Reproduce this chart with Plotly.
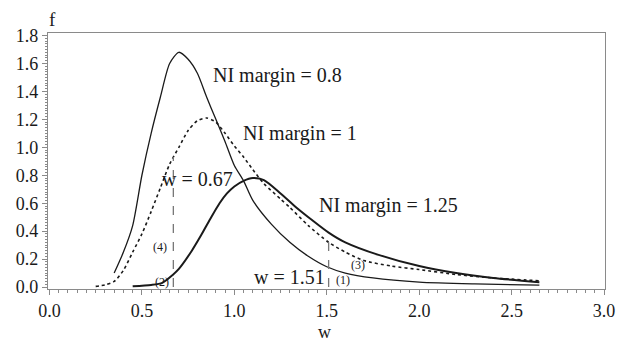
import plotly.graph_objects as go

# NI margin = 0.8 (thin solid)
w_08 = [0.35, 0.40, 0.45, 0.50, 0.55, 0.60, 0.65, 0.70, 0.75, 0.80, 0.85, 0.90, 0.95,
        1.00, 1.05, 1.10, 1.20, 1.30, 1.40, 1.50, 1.60, 1.75, 2.00, 2.30, 2.65]
f_08 = [0.10, 0.25, 0.44, 0.80, 1.10, 1.36, 1.60, 1.68, 1.63, 1.53, 1.36, 1.20, 1.04,
        0.87, 0.76, 0.62, 0.45, 0.32, 0.22, 0.145, 0.10, 0.065, 0.035, 0.022, 0.014]

# NI margin = 1 (dotted)
w_10 = [0.25, 0.30, 0.35, 0.40, 0.45, 0.50, 0.55, 0.60, 0.65, 0.70, 0.75, 0.80, 0.85,
        0.90, 0.95, 1.00, 1.05, 1.10, 1.16, 1.25, 1.30, 1.40, 1.51, 1.60, 1.70, 1.85,
        2.00, 2.20, 2.40, 2.65]
f_10 = [0.005, 0.015, 0.04, 0.12, 0.25, 0.38, 0.54, 0.71, 0.88, 1.00, 1.12, 1.19, 1.21,
        1.18, 1.10, 1.01, 0.93, 0.84, 0.74, 0.63, 0.57, 0.44, 0.32, 0.25, 0.19, 0.15,
        0.125, 0.09, 0.065, 0.045]

# NI margin = 1.25 (thick solid)
w_125 = [0.45, 0.55, 0.61, 0.665, 0.70, 0.77, 0.82, 0.875, 0.92, 0.96, 1.00, 1.05, 1.10,
         1.16, 1.25, 1.335, 1.42, 1.51, 1.60, 1.78, 2.00, 2.20, 2.40, 2.65]
f_125 = [0.005, 0.015, 0.03, 0.085, 0.13, 0.26, 0.37, 0.50, 0.60, 0.67, 0.72, 0.76, 0.78,
         0.765, 0.67, 0.57, 0.48, 0.39, 0.32, 0.23, 0.15, 0.10, 0.065, 0.035]

# critical values (dashed lines)
w_crit = [0.67, 1.51]
f_crit_top = [0.93, 0.32]

x_ticks = [0.0, 0.5, 1.0, 1.5, 2.0, 2.5, 3.0]
y_ticks = [0.0, 0.2, 0.4, 0.6, 0.8, 1.0, 1.2, 1.4, 1.6, 1.8]

FONT = "Liberation Serif, Times New Roman, serif"
INK = "#1a1a1a"
AXIS = "#8a8a8a"

fig = go.Figure()
fig.add_trace(go.Scatter(x=w_08, y=f_08, mode="lines",
                         line=dict(color=INK, width=1.3, shape="spline", smoothing=0.7)))
fig.add_trace(go.Scatter(x=w_10, y=f_10, mode="lines",
                         line=dict(color=INK, width=1.6, dash="dot", shape="spline", smoothing=0.7)))
fig.add_trace(go.Scatter(x=w_125, y=f_125, mode="lines",
                         line=dict(color=INK, width=2.0, shape="spline", smoothing=0.7)))

for wc, ft in zip(w_crit, f_crit_top):
    fig.add_trace(go.Scatter(x=[wc, wc], y=[0, ft], mode="lines",
                             line=dict(color="#777777", width=1.3, dash="dash")))

big = dict(family=FONT, size=20, color=INK)
small = dict(family=FONT, size=12, color=INK)
labels = [
    ("NI margin = 0.8", 0.872, 1.514, big, "left"),
    ("NI margin = 1", 1.037, 1.10, big, "left"),
    ("NI margin = 1.25", 1.447, 0.586, big, "left"),
    ("w = 0.67", 0.60, 0.77, big, "left"),
    ("w = 1.51", 1.096, 0.071, big, "left"),
    ("(1)", 1.59, 0.05, small, "center"),
    ("(3)", 1.67, 0.157, small, "center"),
    ("(4)", 0.60, 0.286, small, "center"),
    ("(2)", 0.61, 0.036, small, "center"),
]
for t, x, y, fnt, xa in labels:
    fig.add_annotation(x=x, y=y, text=t, showarrow=False, font=fnt,
                       xanchor=xa, yanchor="middle", xref="x", yref="y")

fig.add_annotation(xref="paper", yref="paper",
                   x=(52 - 47.7) / (614 - 47.7), y=(289 - 19) / (289 - 33),
                   text="f", showarrow=False, xanchor="center", yanchor="middle",
                   font=dict(family=FONT, size=19, color=INK))
fig.add_annotation(xref="paper", yref="paper", x=(329 - 47.7) / (614 - 47.7),
                   y=(289 - 344) / (289 - 33), text="w", showarrow=False,
                   xanchor="center", yanchor="bottom",
                   font=dict(family=FONT, size=18, color=INK))

fig.update_layout(
    width=627, height=346,
    margin=dict(l=47.7, r=13, t=33, b=57),
    paper_bgcolor="white", plot_bgcolor="white",
    showlegend=False,
    font=dict(family=FONT, size=18, color=INK),
)
fig.update_xaxes(range=[-0.008, 3.005], tickvals=x_ticks,
                 ticktext=[f"{v:.1f}" for v in x_ticks],
                 showgrid=False, zeroline=False, showline=True, linecolor=AXIS, linewidth=1.2,
                 mirror=True, ticks="outside", ticklen=5, tickcolor=AXIS,
                 minor=dict(dtick=0.05, tick0=0, ticks="outside", ticklen=3, tickcolor=AXIS),
                 tickfont=dict(family=FONT, size=18, color=INK))
fig.update_yaxes(range=[-0.014, 1.818], tickvals=y_ticks,
                 ticktext=[f"{v:.1f}" for v in y_ticks],
                 showgrid=False, zeroline=False, showline=True, linecolor=AXIS, linewidth=1.2,
                 mirror=True, ticks="outside", ticklen=5, tickcolor=AXIS,
                 minor=dict(dtick=0.02, tick0=0, ticks="outside", ticklen=2, tickcolor=AXIS),
                 tickfont=dict(family=FONT, size=18, color=INK))

fig.write_html("out.html", config={"displayModeBar": False},
               post_script="document.body.style.margin='0';document.body.style.overflow='hidden';")
